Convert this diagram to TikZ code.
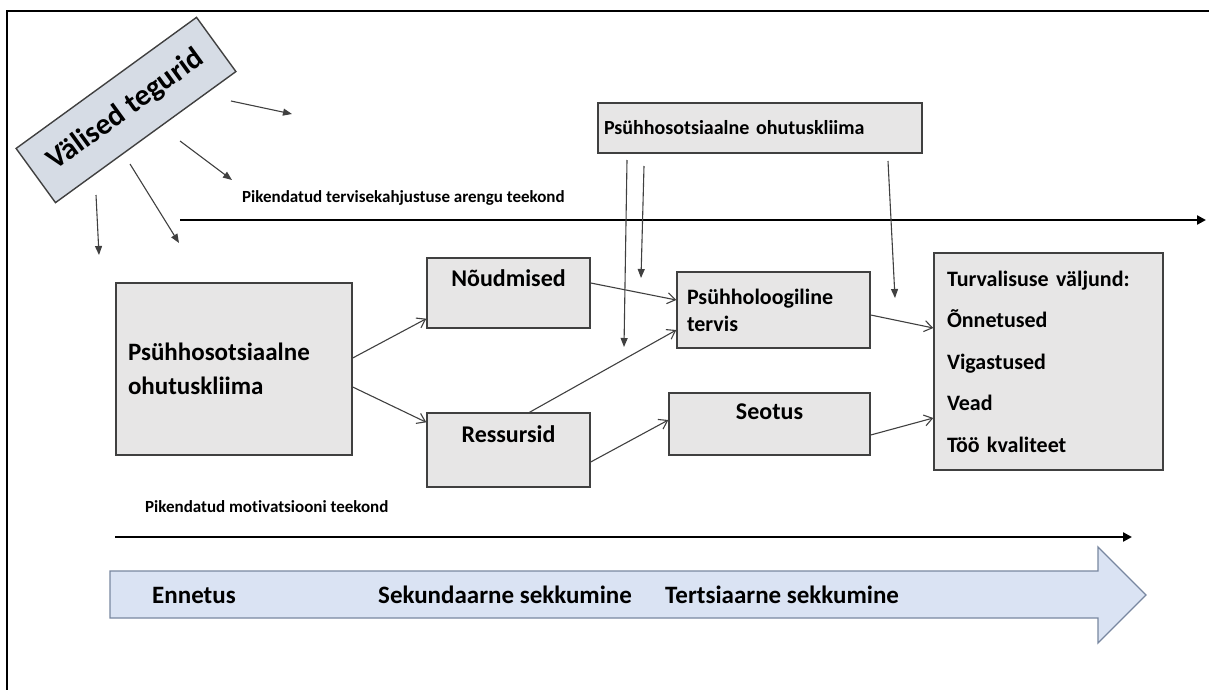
\documentclass[tikz,border=0pt]{standalone}
\usepackage{fontspec}
\setmainfont{Carlito}[Ligatures={NoCommon}]
\usepackage{tikz}
\usetikzlibrary{arrows.meta, positioning}

\definecolor{boxgrey}{RGB}{231,230,230}
\definecolor{edgegrey}{RGB}{64,64,64}
\definecolor{tiltblue}{RGB}{214,220,229}
\definecolor{flowblue}{RGB}{218,227,243}
\definecolor{flowedge}{RGB}{120,135,160}

\begin{document}
\begin{tikzpicture}[x=1pt, y=-1pt]

	\tikzset{
		box/.style={
				draw=edgegrey, fill=boxgrey, line width=1.4pt, inner sep=0pt
			},
		tiltbox/.style={
				draw=edgegrey, fill=tiltblue, line width=1.4pt, rotate=36,
				minimum width=223pt, minimum height=67pt, font=\fontsize{30}{36}\selectfont\bfseries
			},
		boxtext/.style={
				inner sep=0pt, font=\fontsize{24}{29}\selectfont\bfseries
			},
		pathlbl/.style={
				inner sep=0pt, anchor=west, font=\fontsize{17}{20}\selectfont\bfseries
			},
		link/.style={
				draw=edgegrey, line width=1.1pt, -{Straight Barb[length=8pt, width=11pt]}
			},
		pointer/.style={
				draw=edgegrey, line width=1.1pt, -{Triangle[length=9pt, width=7pt]}
			},
		timeline/.style={
				draw=black, line width=2.6pt, -{Triangle[length=9pt, width=9pt]}
			},
		flowtxt/.style={
				inner sep=0pt, anchor=west, font=\fontsize{25}{30}\selectfont\bfseries
			},
	}

	\useasboundingbox (0,0) rectangle (1209,690);
	\draw[line width=2pt] (7,690) -- (7,11) -- (1209,11);

	\node[tiltbox](ext) at (126,110) {Välised tegurid};

	\coordinate (e1a) at (231,101);
	\coordinate (e1b) at (292,114);
	\coordinate (e2a) at (180,141);
	\coordinate (e2b) at (232,180);
	\coordinate (e3a) at (130,164);
	\coordinate (e3b) at (179,243);
	\coordinate (e4a) at (96,195);
	\coordinate (e4b) at (99,255);

	\draw[pointer] (e1a)--(e1b);
	\draw[pointer] (e2a)--(e2b);
	\draw[pointer] (e3a)--(e3b);
	\draw[pointer] (e4a)--(e4b);

	\node[box, minimum width=324pt, minimum height=50pt, text width=312pt, inner xsep=6pt, align=left,
		font=\fontsize{20}{24}\selectfont\bfseries](climtop) at (760,128) {Psühhosotsiaalne ohutuskliima};

	\coordinate (h1s) at (180,220);
	\coordinate (h1e) at (1206,220);
	\draw[timeline] (h1s)--(h1e);
	\node[pathlbl](h1lbl) at (242,198) {Pikendatud tervisekahjustuse arengu teekond};

	\node[box, minimum width=236pt, minimum height=172pt, text width=212pt, inner xsep=12pt, align=left,
		font=\fontsize{25}{34}\selectfont\bfseries](clim) at (234,369) {Psühhosotsiaalne\\ohutuskliima};

	\node[box, minimum width=163pt, minimum height=70pt](dem) at (508.5,293) {};
	\node[boxtext, below=12pt of dem.north](demtxt) {Nõudmised};

	\node[box, minimum width=163pt, minimum height=74pt](res) at (508.5,450) {};
	\node[boxtext, below=13pt of res.north](restxt) {Ressursid};

	\node[box, minimum width=193pt, minimum height=76pt, text width=173pt, inner xsep=10pt, align=left,
		font=\fontsize{22}{27}\selectfont\bfseries](psy) at (773.5,310) {Psühholoogiline\\tervis};

	\node[box, minimum width=201pt, minimum height=62pt](eng) at (769.5,424) {};
	\node[boxtext, below=11pt of eng.north](engtxt) {Seotus};

	\node[box, minimum width=229pt, minimum height=217pt, text width=203pt, inner xsep=13pt, align=left,
		font=\fontsize{22}{41.5}\selectfont\bfseries](out) at (1048.5,361.5)
		{Turvalisuse väljund:\\Õnnetused\\Vigastused\\Vead\\Töö kvaliteet};

	\coordinate (v1a) at (627,160);
	\coordinate (v1b) at (624,347);
	\coordinate (v2a) at (644,166);
	\coordinate (v2b) at (641,278);
	\coordinate (v3a) at (888,161);
	\coordinate (v3b) at (895,298);

	\draw[pointer] (v1a)--(v1b);
	\draw[pointer] (v2a)--(v2b);
	\draw[pointer] (v3a)--(v3b);

	\draw[link] ([yshift=11pt]clim.east)--([yshift=10pt]dem.south west);
	\draw[link] ([yshift=-18pt]clim.east)--([yshift=-10pt]res.north west);
	\draw[link] ([yshift=10pt]dem.east)--([yshift=10pt]psy.west);
	\draw[link] ([xshift=21pt]res.north)--([yshift=-20pt]psy.west);
	\draw[link] ([yshift=-12pt]res.east)--([yshift=4pt]eng.west);
	\draw[link] ([yshift=-5pt]psy.east)--([yshift=33.5pt]out.west);
	\draw[link] ([yshift=-11pt]eng.east)--([yshift=-56.5pt]out.west);

	\node[pathlbl](h2lbl) at (145,507) {Pikendatud motivatsiooni teekond};
	\coordinate (h2s) at (115,537);
	\coordinate (h2e) at (1132,537);
	\draw[timeline] (h2s)--(h2e);

	\draw[draw=flowedge, fill=flowblue, line width=1.3pt]
		(110,571) -- (1098,571) -- (1098,547) -- (1146,595) -- (1098,643) -- (1098,618) -- (110,618) -- cycle;
	\node[flowtxt](prev) at (152,595) {Ennetus};
	\node[flowtxt](sec) at (378,595) {Sekundaarne sekkumine};
	\node[flowtxt](ter) at (665,595) {Tertsiaarne sekkumine};

\end{tikzpicture}
\end{document}
